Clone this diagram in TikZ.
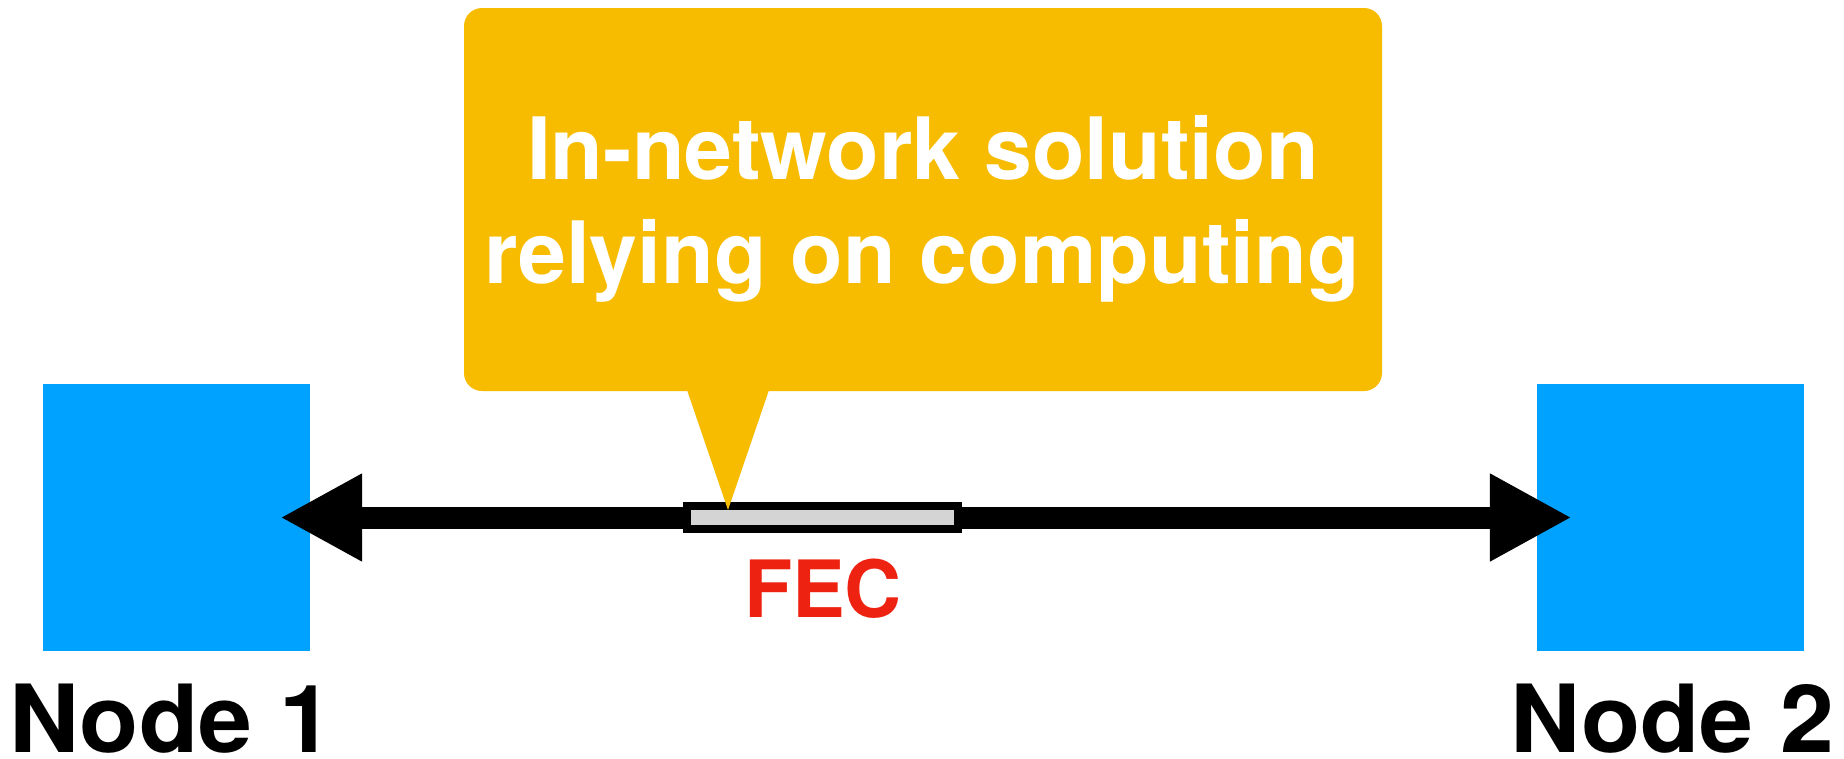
\documentclass[tikz,border=0pt]{standalone}
\usepackage{fontspec}
\setmainfont{TeX Gyre Heros}
\usetikzlibrary{arrows.meta}
\definecolor{nodeblue}{HTML}{00A2FF}
\definecolor{calloutyellow}{HTML}{F7BC00}
\definecolor{fecred}{HTML}{EE2211}
\definecolor{fecgray}{HTML}{D4D4D4}
\tikzset{
  hostbox/.style={rectangle, fill=nodeblue, inner sep=0pt,
    minimum width=267pt, minimum height=267pt},
  hostlabel/.style={anchor=base, inner sep=0pt, text depth=0pt, xscale=1.03,
    font=\fontsize{94}{94}\selectfont\bfseries},
  link/.style={line width=22pt, {Triangle[length=82pt,width=82pt]}-{Triangle[length=82pt,width=82pt]}},
  fecbox/.style={rectangle, fill=fecgray, draw=black, line width=8pt,
    inner sep=0pt, minimum width=271pt, minimum height=23pt},
  feclabel/.style={anchor=base, inner sep=0pt, text=fecred,
    font=\fontsize{79}{79}\selectfont\bfseries},
  bubble/.style={rectangle, fill=calloutyellow, rounded corners=18pt,
    inner sep=0pt, minimum width=918pt, minimum height=383pt},
  bubbletext/.style={anchor=base, inner sep=0pt, text=white,
    font=\fontsize{86}{86}\selectfont\bfseries}
}
\begin{document}
\begin{tikzpicture}[x=1pt,y=-1pt]
\useasboundingbox (0,0) rectangle (1844,758);
% end hosts
\node[hostbox] (n1) at (176.5,517.5) {};
\node[hostbox] (n2) at (1670.5,517.5) {};
% bidirectional link
\draw[link, shorten <=-30pt, shorten >=-35pt] (n1.east) -- (n2.west);
% FEC block on the link
\node[fecbox] (fec) at (822.5,517.5) {};
\node[feclabel] (feclbl) at (823,617) {FEC};
% callout
\node[bubble] (callout) at (923,199.5) {};
\fill[calloutyellow] (687,390) -- (728,510) -- (769,390) -- cycle;
\node[bubbletext] (line1) at (923,179) {In-network solution};
\node[bubbletext] (line2) at (922,283) {relying on computing};
% host labels
\node[hostlabel] (l1) at (171,752) {Node 1};
\node[hostlabel] (l2) at (1672,752) {Node 2};
\end{tikzpicture}
\end{document}
